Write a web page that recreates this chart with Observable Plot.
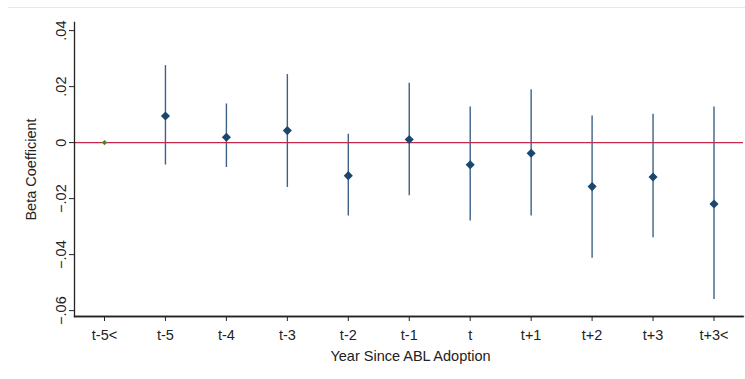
<!DOCTYPE html>
<html>
<head>
<meta charset="utf-8">
<script src="https://cdn.jsdelivr.net/npm/d3@7"></script>
<script src="https://cdn.jsdelivr.net/npm/@observablehq/plot@0.6"></script>
<style>
  html, body { margin: 0; padding: 0; background: #fff; }
  #wrap { position: relative; width: 745px; height: 379px; }
  #edge { position: absolute; top: 7px; left: 8px; right: 0; height: 1px; background: #e3e9ec; }
  #wrap svg { display: block; font-family: "Liberation Sans", Arial, sans-serif; }
</style>
</head>
<body>
<div id="wrap"><div id="edge"></div></div>
<script>
// Event-study estimates around ABL adoption (t-5< is the omitted reference period)
const periods = ["t-5<", "t-5", "t-4", "t-3", "t-2", "t-1", "t", "t+1", "t+2", "t+3", "t+3<"];
const beta    = [0, 0.0095, 0.0019, 0.0043, -0.0118, 0.0011, -0.0079, -0.0038, -0.0157, -0.0123, -0.0219];
const ciLow   = [null, -0.0080, -0.0089, -0.0160, -0.0262, -0.0190, -0.0280, -0.0262, -0.0413, -0.0340, -0.0560];
const ciHigh  = [null, 0.0275, 0.0138, 0.0243, 0.0030, 0.0212, 0.0127, 0.0189, 0.0095, 0.0101, 0.0127];
const yTicks  = [0.04, 0.02, 0, -0.02, -0.04, -0.06];
const yDomain = [-0.0621, 0.0429];

const rows = periods.map((p, i) => ({period: p, beta: beta[i], lo: ciLow[i], hi: ciHigh[i], ref: ciLow[i] === null}));
const est = rows.filter(d => !d.ref);
const refRow = rows.filter(d => d.ref);

// Stata-style number labels: ".04", "-.02", "0"
const fmt = v => v === 0 ? "0" : d3.format(".2f")(v).replace("0.", ".");

const ink = "#222";
const chart = Plot.plot({
  width: 745,
  height: 379,
  marginLeft: 74,
  marginRight: 2,
  marginTop: 22,
  marginBottom: 63,
  style: {fontFamily: "'Liberation Sans', Arial, sans-serif", fontSize: "14.5px", color: ink, background: "transparent"},
  x: {type: "point", domain: periods, range: [104, 713.5], padding: 0, round: false},
  y: {domain: yDomain},
  marks: [
    Plot.ruleX(est, {x: "period", y1: "lo", y2: "hi", stroke: "#3d6187", strokeWidth: 1.4}),
    Plot.ruleY([0], {stroke: "#c4284b", strokeWidth: 1.3}),
    Plot.dot(est, {x: "period", y: "beta", symbol: "diamond2", r: 4.1, fill: "#1a476f", stroke: "none"}),
    Plot.dot(refRow, {x: "period", y: "beta", symbol: "diamond2", r: 2.4, fill: "#5a7d2c", stroke: "none"}),
    // axis lines along the left and bottom edges of the plotting area
    Plot.frame({anchor: "left", stroke: ink, strokeWidth: 1.3}),
    Plot.frame({anchor: "bottom", stroke: ink, strokeWidth: 1.3}),
    Plot.ruleY([yDomain[0]], {y: d => d, stroke: ink, strokeWidth: 1.3}),
    Plot.axisX({tickSize: 5, tickPadding: 8, label: null, stroke: ink, fill: ink}),
    Plot.axisY({ticks: yTicks, tickFormat: fmt, tickSize: 5, tickPadding: 4, tickRotate: -90, label: null, stroke: ink, fill: ink}),
    Plot.text(["Beta Coefficient"], {frameAnchor: "left", dx: -39, rotate: -90, textAnchor: "middle", lineAnchor: "bottom", fill: ink, fontSize: 14.5}),
    Plot.text(["Year Since ABL Adoption"], {frameAnchor: "bottom", dy: 44, dx: 1.5, textAnchor: "middle", lineAnchor: "bottom", fill: ink, fontSize: 14.5})
  ]
});
document.getElementById("wrap").appendChild(chart);
</script>
</body>
</html>
